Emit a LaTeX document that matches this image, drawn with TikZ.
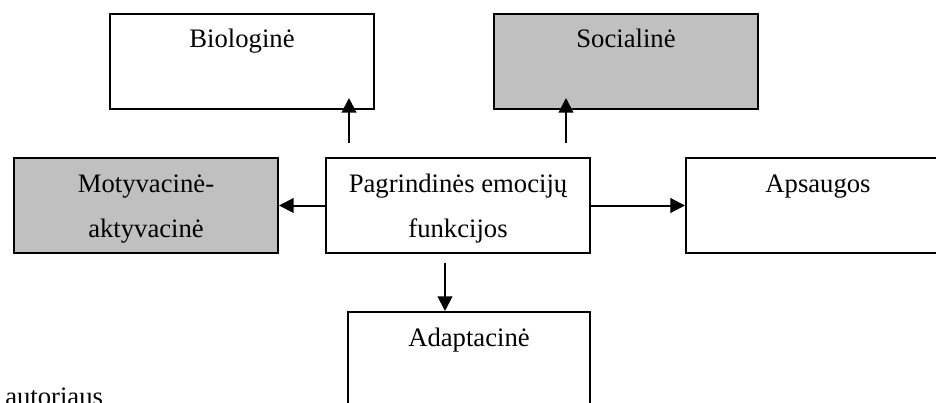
\documentclass[tikz,border=0pt]{standalone}
\usepackage{fontspec}
\setmainfont{Liberation Serif}
\usetikzlibrary{arrows.meta}
\definecolor{boxgray}{HTML}{C0C0C0}
\begin{document}
\begin{tikzpicture}[x=0.75pt,y=-0.75pt,
  box/.style={draw=black, line width=1.5pt, rectangle, anchor=north west,
    minimum width=198pt, minimum height=71.25pt, inner sep=0pt},
  shaded/.style={box, fill=boxgray},
  caption/.style={anchor=base, align=center, inner sep=0pt,
    font=\fontsize{20}{33.75}\selectfont},
  arr/.style={line width=1.5pt, -{Triangle[length=11pt,width=11pt]}}]
\useasboundingbox (0,0) rectangle (936,403);
\clip (0,0) rectangle (936,403);

% boxes
\node[box]    (bio)    at (109,13)  {};
\node[shaded] (soc)    at (493,13)  {};
\node[shaded] (mot)    at (13,157)  {};
\node[box]    (center) at (325,157) {};
\node[box]    (aps)    at (685,157) {};
\node[box, minimum width=181.5pt, minimum height=90pt] (adapt) at (347,311) {};

% box captions (the base anchor of a two-line caption is its second line)
\node[caption] (biot)    at ([yshift=-26.25pt]bio.north)    {Biologinė};
\node[caption] (soct)    at ([yshift=-26.25pt]soc.north)    {Socialinė};
\node[caption] (mott)    at ([yshift=-60pt]mot.north)       {Motyvacinė-\\aktyvacinė};
\node[caption] (centert) at ([yshift=-60pt]center.north)    {Pagrindinės emocijų\\funkcijos};
\node[caption] (apst)    at ([yshift=-26.25pt]aps.north)    {Apsaugos};
\node[caption] (adaptt)  at ([yshift=-26.25pt]adapt.north)  {Adaptacinė};

% connectors
\coordinate (xa) at (349,0);
\coordinate (xb) at (566,0);
\coordinate (xc) at (445,0);
\draw[arr, shorten <=10.5pt, shorten >=-9pt] (center.north -| xa) -- (bio.south -| xa);
\draw[arr, shorten <=10.5pt, shorten >=-9pt] (center.north -| xb) -- (soc.south -| xb);
\draw[arr] (center.west) -- (mot.east);
\draw[arr] (center.east) -- (aps.west);
\draw[arr, shorten <=6.75pt] (center.south -| xc) -- (adapt.north -| xc);

% source note
\node[anchor=base west, inner sep=0pt, font=\fontsize{20}{24}\selectfont] (src) at (5,405) {autoriaus};
\end{tikzpicture}
\end{document}
